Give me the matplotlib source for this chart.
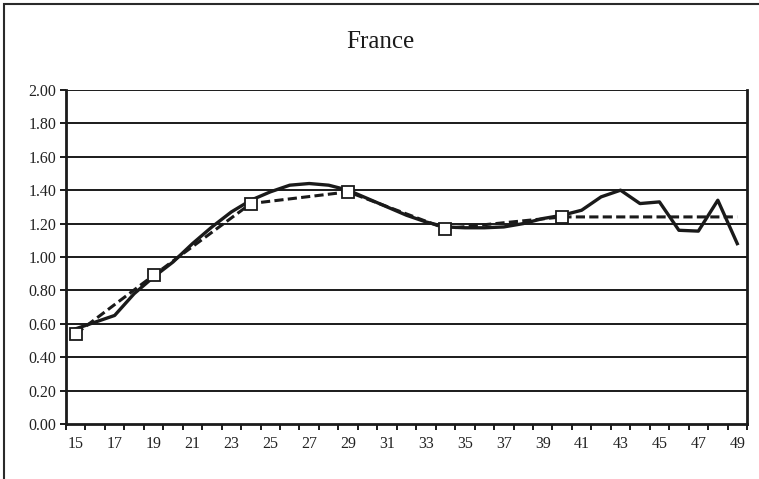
import matplotlib
matplotlib.use("Agg")
import matplotlib.pyplot as plt
from matplotlib.patches import Rectangle
import numpy as np

ages = list(range(15, 50))
observed = [0.57, 0.61, 0.65, 0.78, 0.88, 0.97, 1.08, 1.18, 1.27, 1.34,
            1.39, 1.43, 1.44, 1.43, 1.40, 1.35, 1.30, 1.25, 1.21, 1.18,
            1.175, 1.175, 1.18, 1.20, 1.23, 1.25, 1.28, 1.36, 1.40, 1.32,
            1.33, 1.16, 1.155, 1.34, 1.08]
model_ages = [15, 19, 24, 29, 34, 40, 49]
model_vals = [0.54, 0.89, 1.32, 1.39, 1.17, 1.24, 1.24]
yticks = [0.0, 0.2, 0.4, 0.6, 0.8, 1.0, 1.2, 1.4, 1.6, 1.8, 2.0]
xlabels = list(range(15, 50, 2))
title = "France"

plt.rcParams['font.family'] = ['Liberation Serif', 'DejaVu Serif']

fig = plt.figure(figsize=(7.59, 4.79), dpi=100)
ax = fig.add_axes([66/759, 1-424/479, (747-66)/759, (424-90)/479])

for y in yticks[1:]:
    ax.axhline(y, color='#1a1a1a', lw=1.4, zorder=1)

ax.plot(ages, observed, color='#1a1a1a', lw=2.4, zorder=3, solid_joinstyle='round')
ax.plot(model_ages, model_vals, color='#1a1a1a', lw=2.2, ls=(0, (3.0, 1.4)), zorder=4,
        marker='s', markersize=9, markerfacecolor='white', markeredgecolor='#1a1a1a',
        markeredgewidth=1.3, markevery=list(range(6)))

ax.set_xlim(14.5, 49.5)
ax.set_ylim(0, 2.0)
ax.set_yticks(yticks)
ax.set_yticklabels([f"{v:.2f}" for v in yticks], fontsize=11.5, color='#222222')
ax.set_xticks(xlabels)
ax.set_xticklabels([str(v) for v in xlabels], fontsize=11.5, color='#222222')
ax.tick_params(axis='x', which='major', length=0, pad=9)
ax.set_xticks(np.arange(14.5, 50.0, 1.0), minor=True)
ax.tick_params(axis='x', which='minor', length=4, width=1.4, direction='out', color='#1a1a1a')
ax.tick_params(axis='y', which='major', length=4, width=1.4, direction='out', color='#1a1a1a', pad=3)

for s in ['left', 'bottom', 'right']:
    ax.spines[s].set_linewidth(2.0)
    ax.spines[s].set_color('#1a1a1a')
ax.spines['top'].set_visible(False)

fig.text(380/759, 1-42/479, title, ha='center', va='center', fontsize=18, color='#1a1a1a')

fig.patches.append(Rectangle((3.5/759, -0.05), 1.1, 1.05 - 4.5/479,
                             transform=fig.transFigure, fill=False,
                             edgecolor='#2a2a2a', lw=1.5, clip_on=False))

fig.savefig("out.png", dpi=100)
